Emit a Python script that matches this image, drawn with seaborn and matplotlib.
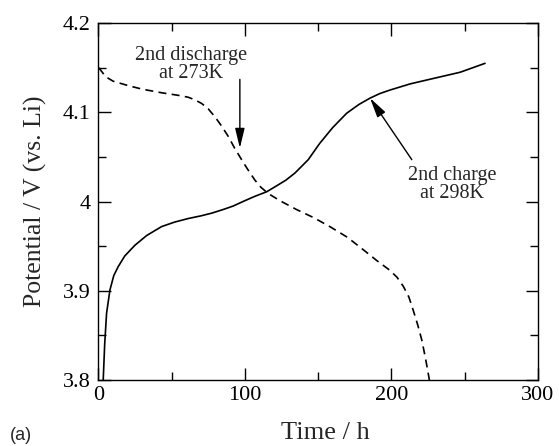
import matplotlib
matplotlib.use("Agg")
import matplotlib.pyplot as plt
import seaborn as sns
import pandas as pd

# 2nd charge at 298 K
charge_time = [3.3, 4.3, 5.6, 7.9, 10.5, 13.5, 18.0, 24.9, 33.0, 43.2, 52.0, 61.3, 70.0,
               77.3, 85.0, 92.0, 100.0, 107.0, 114.9, 122.0, 128.0, 134.2, 143.3, 151.0,
               160.0, 169.5, 178.0, 185.5, 192.0, 199.0, 213.0, 226.0, 247.0, 264.0]
charge_volt = [3.800, 3.840, 3.875, 3.901, 3.917, 3.927, 3.939, 3.951, 3.962, 3.972, 3.977,
               3.981, 3.984, 3.987, 3.991, 3.995, 4.001, 4.006, 4.011, 4.018, 4.024, 4.032,
               4.047, 4.065, 4.083, 4.099, 4.109, 4.116, 4.121, 4.125, 4.132, 4.137, 4.145,
               4.155]

# 2nd discharge at 273 K
dis_time = [0.3, 5.0, 10.0, 20.4, 30.0, 43.2, 55.0, 61.3, 66.0, 70.5, 75.0, 79.6, 84.0,
            88.7, 93.0, 97.8, 102.0, 106.9, 111.0, 116.0, 124.0, 135.4, 147.0, 158.0,
            170.0, 180.9, 190.0, 199.0, 204.0, 208.2, 212.0, 215.0, 218.0, 220.8, 223.5,
            226.0]
dis_volt = [4.150, 4.140, 4.135, 4.130, 4.126, 4.122, 4.119, 4.117, 4.114, 4.110, 4.104,
            4.095, 4.085, 4.073, 4.060, 4.047, 4.036, 4.024, 4.016, 4.009, 4.001, 3.991,
            3.982, 3.972, 3.960, 3.946, 3.934, 3.923, 3.915, 3.905, 3.893, 3.878, 3.862,
            3.845, 3.823, 3.800]

sns.set_style("ticks")
plt.rcParams["font.family"] = ["Liberation Serif", "DejaVu Serif"]

charge = pd.DataFrame({"time": charge_time, "volt": charge_volt})
discharge = pd.DataFrame({"time": dis_time, "volt": dis_volt})

fig = plt.figure(figsize=(5.59, 4.46), dpi=100)
ax = fig.add_axes([0.176, 0.148, 0.786, 0.800])

sns.lineplot(data=charge, x="time", y="volt", ax=ax, color="black", lw=1.2,
             estimator=None, sort=False)
sns.lineplot(data=discharge, x="time", y="volt", ax=ax, color="black", lw=1.2,
             estimator=None, sort=False, linestyle=(0, (4.8, 3.2)))

ax.set_xlim(0, 300)
ax.set_ylim(3.8, 4.2)
ax.set_xticks([0, 100, 200, 300])
ax.set_xticklabels(["0", "100", "200", "300"])
ax.set_xticks([50, 150, 250], minor=True)
ax.set_yticks([3.8, 3.9, 4.0, 4.1, 4.2])
ax.set_yticklabels(["3.8", "3.9", "4", "4.1", "4.2"])
ax.set_yticks([3.85, 3.95, 4.05, 4.15], minor=True)
ax.tick_params(which="both", direction="in", top=True, right=True, labelsize=16,
               width=1.0, colors="black")
ax.tick_params(which="major", length=9)
ax.tick_params(axis="y", which="major", pad=5.5)
ax.tick_params(axis="x", which="major", pad=4)
ax.tick_params(which="minor", length=6)
for s in ax.spines.values():
    s.set_linewidth(1.0)
    s.set_color("black")

ax.set_xlabel("Time / h", fontsize=19, va="baseline")
ax.xaxis.set_label_coords(0.516, -0.166)
ax.set_ylabel("Potential / V (vs. Li)", fontsize=18.5, va="bottom")
ax.yaxis.set_label_coords(-0.117, 0.5)

arrow = dict(arrowstyle="-|>,head_length=1.2,head_width=0.29", color="black", lw=1.0,
             shrinkA=0, shrinkB=0)
ax.annotate("", xy=(96.6, 4.060), xytext=(96.6, 4.137), arrowprops=arrow)
ax.annotate("", xy=(185.5, 4.116), xytext=(214.0, 4.047), arrowprops=arrow)

ax.text(63.0, 4.1535, "2nd discharge\nat 273K", ha="center", va="center", fontsize=14.5,
        linespacing=0.9)
ax.text(241.5, 4.019, "2nd charge\nat 298K", ha="center", va="center", fontsize=14.5,
        linespacing=0.9)

fig.text(0.018, 0.0143, "(a)", fontsize=13, family="Liberation Sans", ha="left",
         va="baseline")

fig.savefig("out.png", dpi=100)
